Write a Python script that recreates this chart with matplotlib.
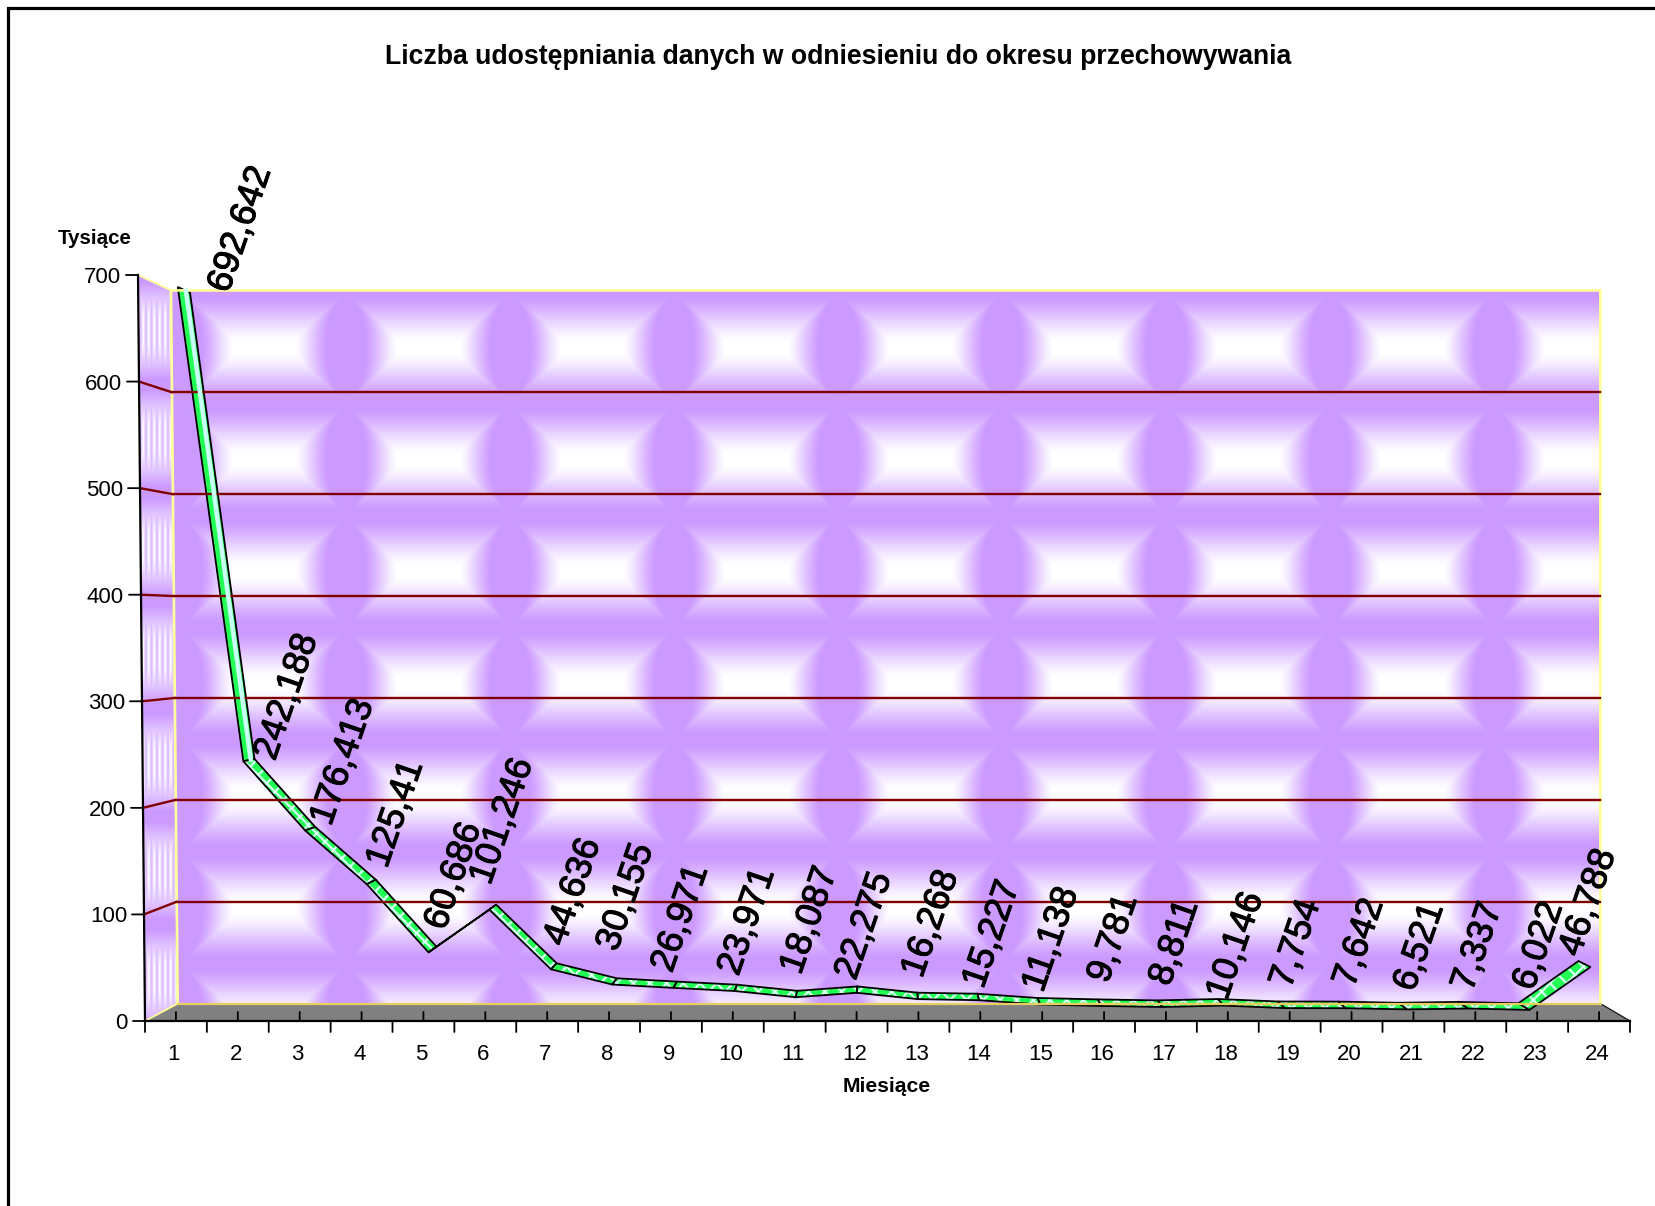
import matplotlib
matplotlib.use('Agg')
import matplotlib.pyplot as plt
import matplotlib.transforms as mtransforms
import matplotlib.patheffects as pe
from matplotlib.patches import Polygon
from matplotlib.colors import to_rgb
import numpy as np

plt.rcParams['font.family'] = ['Liberation Sans', 'DejaVu Sans']
plt.rcParams['hatch.linewidth'] = 1.6

months = np.arange(1, 25)
values = [692.642, 242.188, 176.413, 125.41, 60.686, 101.246, 44.636, 30.155,
          26.971, 23.971, 18.087, 22.275, 16.268, 15.227, 11.138, 9.781,
          8.811, 10.146, 7.754, 7.642, 6.521, 7.337, 6.022, 46.788]
y_ticks = [0, 100, 200, 300, 400, 500, 600, 700]

title = 'Liczba udostępniania danych w odniesieniu do okresu przechowywania'
y_title = 'Tysiące'
x_title = 'Miesiące'

# hand placed label centres, read at 1568 px wide
label_cx = [228, 272, 325, 375, 430, 476, 543, 593, 645, 708, 767, 819,
            882, 940, 996, 1055, 1113, 1171, 1228, 1288, 1345, 1400, 1458, 1505]
label_cy = [217, 660, 722, 771, 830, 778, 845, 850, 870, 873, 872, 877,
            875, 885, 890, 889, 893, 896, 894, 893, 897, 897, 896, 855]
REF = 1655 / 1568

PURPLE = '#CC99FF'
YELLOW = '#FFFF99'
GRID = '#800000'
GREEN = '#22FF55'

# vanishing point of the fake 3d box
VX, VY = 888, 625
BACK = 0.956
RIB_FRONT = 0.988
RIB_BACK = 0.971


class Depth(mtransforms.Transform):
    # (month, value) -> pixels, at a given depth of the box
    input_dims = 2
    output_dims = 2
    is_separable = False

    def __init__(self, scale):
        super().__init__()
        self.scale = scale

    def transform_non_affine(self, values):
        values = np.asarray(values, dtype=float)
        m = values[:, 0] - 0.5
        v = values[:, 1]
        x = 145 + m * 61.875 - 0.01 * v * (1 - m / 24)
        y = 1021 - v * 1.0657
        return np.column_stack((VX + (x - VX) * self.scale,
                                VY + (y - VY) * self.scale))


def corners(m, v, scale):
    return Depth(scale).transform(np.column_stack((m, v)))


def tile_image(x0, x1, y0, y1, cx, dx, cy, dy):
    xx, yy = np.meshgrid(np.arange(x0, x1), np.arange(y0, y1))
    u = np.abs((((xx - cx) / dx + 0.5) % 1 - 0.5) * 2)
    w = np.abs((((yy - cy) / dy + 0.5) % 1 - 0.5) * 2)
    ty = np.clip((w - 0.12) / 0.78, 0, 1)
    lens = 0.62 * (1 - w ** 3)
    tx = np.clip((u - (1 - lens)) / (0.62 * lens + 0.01), 0, 1)
    t = np.maximum(tx, ty)
    t = 0.6 * t + 0.4 * t * t * (3 - 2 * t)
    white = np.array([1, 1, 1.0])
    return white + (np.array(to_rgb(PURPLE)) - white) * t[..., None]


def side_image(x0, x1, y0, y1):
    xx, yy = np.meshgrid(np.arange(x0, x1), np.arange(y0, y1))
    w = np.abs((((yy - 330) / 108 + 0.5) % 1 - 0.5) * 2)
    stripes = 0.5 + 0.5 * np.cos(2 * np.pi * (xx - 140) / 5.5)
    t = np.maximum(np.clip((w - 0.2) / 0.7, 0, 1), 0.05 + 0.6 * stripes)
    white = np.array([1, 1, 1.0])
    return white + (np.array(to_rgb(PURPLE)) - white) * t[..., None]


fig = plt.figure(figsize=(16.55, 12.06), dpi=100)
ax = fig.add_axes([0, 0, 1, 1])

# outer frame, cut off on the right and at the bottom
ax.plot([8, 8, 1655], [1206, 8, 8], color='black', lw=2.3, solid_joinstyle='miter')

tf_front = Depth(1.0) + ax.transData
tf_back = Depth(BACK) + ax.transData

x_lo, x_hi = 0.5, 24.5
tl, bl = corners([x_lo, x_lo], [700, 0], 1.0)
tb, bb = corners([x_lo, x_lo], [700, 0], BACK)
tr_b, br_b = corners([x_hi, x_hi], [700, 0], BACK)
br_f = corners([x_hi], [0], 1.0)[0]
# the far right wall edge stands a bit further out in the reference
tr_b = tr_b + [3, 0]
br_b = br_b + [3, 0]

# back wall
wall = Polygon([tb, tr_b, br_b, bb], closed=True, fc='none', ec='none')
ax.add_patch(wall)
im = ax.imshow(tile_image(165, 1610, 285, 1010, 264, 164, 347, 112),
               extent=(165, 1610, 1010, 285), aspect='auto', interpolation='bilinear')
im.set_clip_path(wall)

# side wall
side = Polygon([tl, tb, bb, bl], closed=True, fc='none', ec='none')
ax.add_patch(side)
im2 = ax.imshow(side_image(135, 182, 270, 1025),
                extent=(135, 182, 1025, 270), aspect='auto', interpolation='bilinear')
im2.set_clip_path(side)

# floor
ax.add_patch(Polygon([bl, bb, br_b, br_f], closed=True, fc='#808080', ec='none'))
ax.plot(*np.column_stack((br_b, br_f)), color='#222222', lw=1)

# wall edges
ax.plot(*np.column_stack((bb, tb, tr_b, br_b)), color=YELLOW, lw=1.9, solid_joinstyle='miter')
ax.plot(*np.column_stack((tl, tb)), color=YELLOW, lw=1.3)
ax.plot(*np.column_stack((bl, bb)), color=YELLOW, lw=1.3)
ax.plot(*np.column_stack((bb, br_b)), color='#E8D060', lw=1.6)

# grid lines, back wall and the piece on the side wall
for v in y_ticks[1:-1]:
    ax.plot([x_lo, x_hi + 0.04], [v, v], transform=tf_back, color=GRID, lw=1.7)
    p0, p1 = corners([x_lo, x_lo], [v, v], 1.0)[0], corners([x_lo], [v], BACK)[0]
    ax.plot([p0[0], p1[0]], [p0[1], p1[1]], color=GRID, lw=1.7)

# ribbon
upper = corners(months, values, RIB_FRONT)
lower = corners(months, values, RIB_BACK)
for i in range(len(months) - 1):
    poly = [upper[i], upper[i + 1], lower[i + 1], lower[i]]
    if i == 0:
        ax.add_patch(Polygon(poly, closed=True, fc=GREEN, ec='none'))
        ax.plot(months[:2], values[:2], transform=Depth((RIB_FRONT + RIB_BACK * 2) / 3) + ax.transData,
                color='#C8FFF4', lw=3.2)
    else:
        ax.add_patch(Polygon(poly, closed=True, fc=GREEN, ec='#D8FFF4', lw=0, hatch='xx'))
    ax.add_patch(Polygon(poly, closed=True, fc='none', ec='black', lw=1.3, joinstyle='miter'))

# axes
ax.plot([x_lo, x_lo], [0, 700], transform=tf_front, color='black', lw=1.6)
ax.plot([x_lo, x_hi], [0, 0], transform=tf_front, color='black', lw=1.6)
for v in y_ticks:
    ax.annotate('', xy=(x_lo, v), xycoords=tf_front, xytext=(-12, 0), textcoords='offset pixels',
                arrowprops=dict(arrowstyle='-', color='black', lw=1.3, shrinkA=0, shrinkB=0))
    ax.annotate(str(v), xy=(x_lo, v), xycoords=tf_front, xytext=(-17, 0), textcoords='offset pixels',
                ha='right', va='center_baseline', fontsize=16)
for m in np.arange(0.5, 25):
    ax.annotate('', xy=(m, 0), xycoords=tf_front, xytext=(0, -11), textcoords='offset pixels',
                arrowprops=dict(arrowstyle='-', color='black', lw=1.3, shrinkA=0, shrinkB=0))
for m in months:
    ax.annotate('', xy=(m, 0), xycoords=tf_front, xytext=(0, 9), textcoords='offset pixels',
                arrowprops=dict(arrowstyle='-', color='black', lw=1.3, shrinkA=0, shrinkB=0))
    ax.annotate(str(m), xy=(m, 0), xycoords=tf_front, xytext=(-2, -31), textcoords='offset pixels',
                ha='center', va='center_baseline', fontsize=16)

# value labels
thick = [pe.withStroke(linewidth=0.8, foreground='black')]
for val, cx, cy in zip(values, label_cx, label_cy):
    ax.text(cx * REF, cy * REF, f'{val:g}'.replace('.', ','), rotation=71, ha='center', va='center',
            rotation_mode='anchor', fontsize=26, color='black', path_effects=thick)

ax.text(838, 57, title, ha='center', va='center', fontsize=19.2, fontweight='bold')
ax.text(95, 239, y_title, ha='center', va='center', fontsize=14.8, fontweight='bold')
ax.text(887, 1087, x_title, ha='center', va='center', fontsize=15.2, fontweight='bold')

ax.set_xlim(0, 1655)
ax.set_ylim(1206, 0)
ax.axis('off')

fig.savefig('out.png', dpi=100)
